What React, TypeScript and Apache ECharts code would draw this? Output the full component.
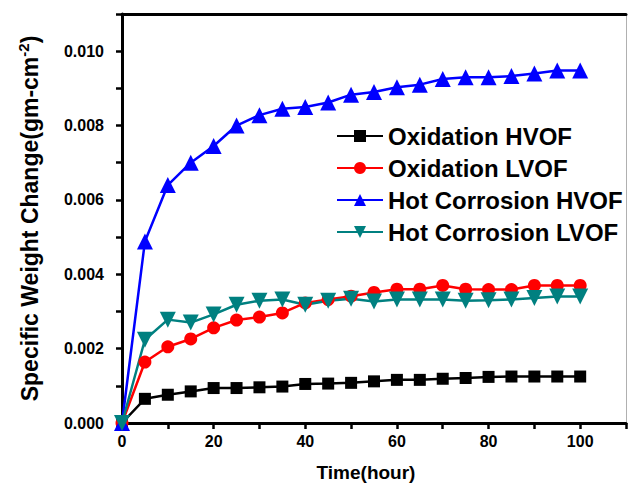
import React, { useEffect, useRef } from "react";
import * as echarts from "echarts";

const hours = [0, 5, 10, 15, 20, 25, 30, 35, 40, 45, 50, 55, 60, 65, 70, 75, 80, 85, 90, 95, 100];
const oxidationHVOF = [0, 0.00065, 0.00076, 0.00085, 0.00094, 0.00094, 0.00096, 0.00098, 0.00105, 0.00106, 0.00108, 0.00112, 0.00116, 0.00116, 0.00119, 0.00121, 0.00124, 0.00125, 0.00125, 0.00125, 0.00125];
const oxidationLVOF = [0, 0.00164, 0.00205, 0.00226, 0.00256, 0.00277, 0.00285, 0.00296, 0.00323, 0.00332, 0.00341, 0.00351, 0.0036, 0.0036, 0.0037, 0.0036, 0.00359, 0.00359, 0.0037, 0.0037, 0.0037];
const hotCorrosionHVOF = [0, 0.00488, 0.0064, 0.007, 0.00745, 0.008, 0.00828, 0.00845, 0.0085, 0.00862, 0.00883, 0.0089, 0.00903, 0.0091, 0.00925, 0.0093, 0.0093, 0.00933, 0.0094, 0.00948, 0.00948];
const hotCorrosionLVOF = [0, 0.00224, 0.00278, 0.0027, 0.00292, 0.00318, 0.00329, 0.00332, 0.00318, 0.00329, 0.00334, 0.00327, 0.00332, 0.00332, 0.00332, 0.00329, 0.0033, 0.00332, 0.00336, 0.0034, 0.0034];

const seriesNames = ["Oxidation HVOF", "Oxidation LVOF", "Hot Corrosion HVOF", "Hot Corrosion LVOF"];
const xAxisTitle = "Time(hour)";

const FONT = "'Liberation Sans', Arial, sans-serif";

export default function App() {
  const ref = useRef<HTMLDivElement>(null);
  useEffect(() => {
    if (!ref.current) return;
    const chart = echarts.init(ref.current, undefined, { renderer: "svg" });
    const pair = (ys: number[]) => hours.map((h, i) => [h, ys[i]]);
    const mk = (name: string, ys: number[], color: string, symbol: string, size: number, rotate = 0) => ({
      name,
      type: "line",
      data: pair(ys),
      symbol,
      symbolSize: size,
      symbolRotate: rotate,
      showAllSymbol: true,
      lineStyle: { color, width: 2.5 },
      itemStyle: { color },
      xAxisIndex: 0,
      yAxisIndex: 0,
    });
    chart.setOption({
      animation: false,
      backgroundColor: "#ffffff",
      textStyle: { fontFamily: FONT },
      grid: { left: 122, right: 1, top: 14, bottom: 66, containLabel: false },
      legend: {
        left: 331,
        top: 117,
        orient: "vertical",
        itemWidth: 46,
        itemHeight: 15,
        itemGap: 4,
        textStyle: { fontFamily: FONT, fontWeight: "bold", fontSize: 24, lineHeight: 28, color: "#000" },
        data: seriesNames,
      },
      xAxis: [
        {
          type: "value",
          min: 0,
          max: 110,
          interval: 10,
          name: xAxisTitle,
          nameLocation: "middle",
          nameGap: 40,
          nameTextStyle: { fontFamily: FONT, fontWeight: "bold", fontSize: 19, color: "#000", padding: [0, 16, 0, 0] },
          axisLine: { show: true, onZero: false, lineStyle: { color: "#000", width: 3 } },
          axisTick: { show: true, inside: false, length: 6, lineStyle: { color: "#000", width: 2.5 } },
          axisLabel: {
            margin: 10,
            fontFamily: FONT,
            fontWeight: "bold",
            fontSize: 16,
            color: "#000",
            formatter: (v: number) => (Math.round(v) % 20 === 0 && v <= 100 ? String(Math.round(v)) : ""),
          },
          splitLine: { show: false },
        },
        {
          type: "value",
          position: "top",
          min: 0,
          max: 110,
          axisLine: { show: true, onZero: false, lineStyle: { color: "#000", width: 3 } },
          axisTick: { show: false },
          axisLabel: { show: false },
          splitLine: { show: false },
        },
      ],
      yAxis: [
        {
          type: "value",
          min: 0,
          max: 0.011,
          interval: 0.001,
          name: "{m|Specific Weight Change(gm-cm}{s|-2}{m|)}",
          nameLocation: "middle",
          nameGap: 79,
          nameRotate: 90,
          nameTextStyle: {
            fontFamily: FONT,
            fontWeight: "bold",
            fontSize: 23,
            color: "#000",
            rich: {
              m: { fontFamily: FONT, fontWeight: "bold", fontSize: 23, color: "#000", lineHeight: 27 },
              s: { fontFamily: FONT, fontWeight: "bold", fontSize: 15, color: "#000", verticalAlign: "top", lineHeight: 16, padding: [0, 0, 12, 0] },
            },
          },
          axisLine: { show: true, onZero: false, lineStyle: { color: "#000", width: 3 } },
          axisTick: { show: true, inside: false, length: 6, lineStyle: { color: "#000", width: 2.5 } },
          axisLabel: {
            margin: 18,
            fontFamily: FONT,
            fontWeight: "bold",
            fontSize: 16,
            color: "#000",
            formatter: (v: number) => {
              const k = Math.round(v * 1000);
              return k % 2 === 0 && k <= 10 ? (k / 1000).toFixed(3) : "";
            },
          },
          splitLine: { show: false },
        },
        {
          type: "value",
          position: "right",
          min: 0,
          max: 0.011,
          axisLine: { show: true, onZero: false, lineStyle: { color: "#b0b0b0", width: 1 } },
          axisTick: { show: false },
          axisLabel: { show: false },
          splitLine: { show: false },
        },
      ],
      series: [
        mk(seriesNames[0], oxidationHVOF, "#000000", "rect", 12),
        mk(seriesNames[1], oxidationLVOF, "#ff0000", "circle", 13),
        mk(seriesNames[2], hotCorrosionHVOF, "#0000ff", "triangle", 16),
        mk(seriesNames[3], hotCorrosionLVOF, "#008080", "triangle", 16, 180),
      ],
    });
    return () => chart.dispose();
  }, []);
  return <div ref={ref} style={{ position: "fixed", left: 0, top: 0, width: 629, height: 489 }} />;
}
